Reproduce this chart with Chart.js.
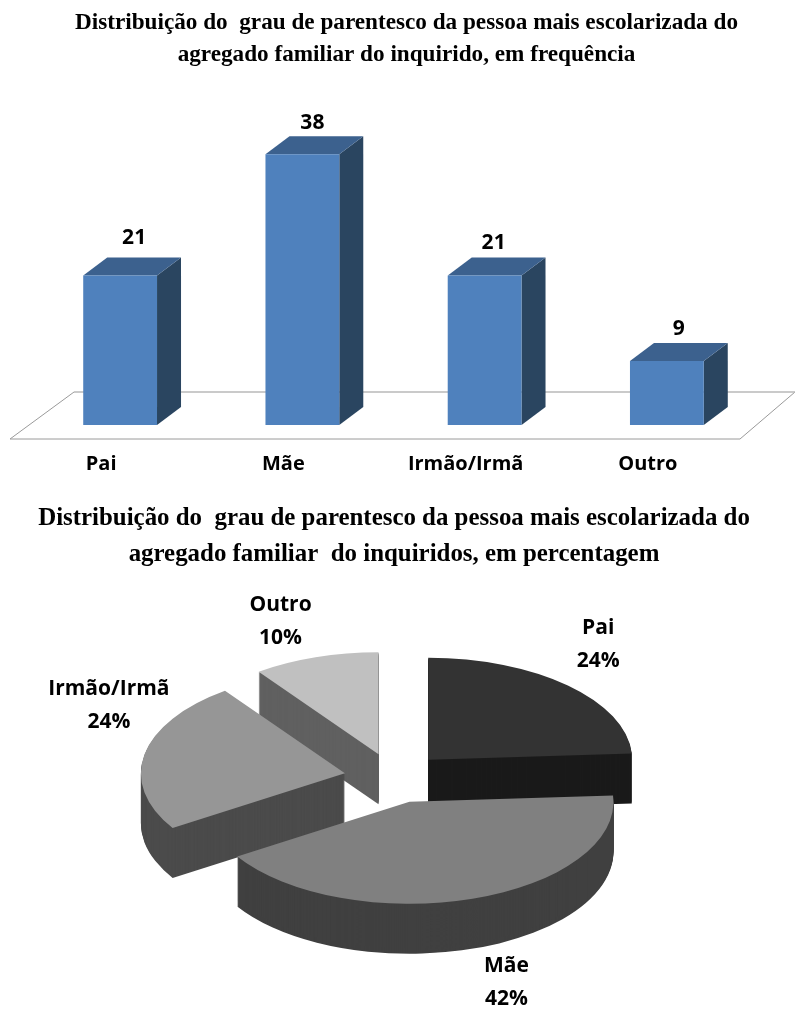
<!DOCTYPE html>
<html>
<head>
<meta charset="utf-8">
<title>Grau de parentesco</title>
<script src="https://cdn.jsdelivr.net/npm/chart.js@4"></script>
<style>
  html, body { margin: 0; padding: 0; background: #fff; }
  canvas { position: absolute; left: 0; }
  #barChart { top: 0; }
  #pieChart { top: 490px; }
</style>
</head>
<body>
<canvas id="barChart" width="795" height="490"></canvas>
<canvas id="pieChart" width="795" height="520"></canvas>
<script>
const categories = ["Pai", "Mãe", "Irmão/Irmã", "Outro"];
const frequency = [21, 38, 21, 9];
const percentage = [24, 42, 24, 10];

const barTitle = ["Distribuição do  grau de parentesco da pessoa mais escolarizada do", "agregado familiar do inquirido, em frequência"];
const pieTitle = ["Distribuição do  grau de parentesco da pessoa mais escolarizada do", "agregado familiar  do inquiridos, em percentagem"];

const pieColors = ["#333333", "#808080", "#969696", "#c0c0c0"];
const wallColors = ["#1a1a1a", "#404040", "#4b4b4b", "#606060"];

// 3d look of the bars
const barDepthX = 24;
const barDepthY = 18;
const barLabelShift = [[14, -37], [10, -31], [9, -32], [12, -32]];

// 3d look of the pie
const tilt = 0.5;
const explode = 50;
const pieDepth = 50;
const pieLabelShift = [[170, -132], [97, 164], [-236, -84], [-98, -149]];
const wallOrder = [3, 0, 2, 1]; // back to front

function sliceOrigin(arc) {
  const mid = (arc.startAngle + arc.endAngle) / 2;
  return { x: arc.x + Math.cos(mid) * explode, y: arc.y + Math.sin(mid) * explode * tilt };
}

// the arcs are drawn flattened and pulled out of the centre
const baseArcDraw = Chart.ArcElement.prototype.draw;
Chart.ArcElement.prototype.draw = function (ctx) {
  const o = sliceOrigin(this);
  ctx.save();
  ctx.translate(o.x, o.y);
  ctx.scale(1, tilt);
  ctx.translate(-this.x, -this.y);
  baseArcDraw.call(this, ctx);
  ctx.restore();
};

const bar3d = {
  id: "bar3d",
  // title sits right of the plot centre in the original
  afterLayout(chart) {
    chart.titleBlock.left += 26;
  },
  beforeDatasetsDraw(chart) {
    const ctx = chart.ctx;
    const x = chart.scales.x;
    const y0 = chart.scales.y.getPixelForValue(0);
    // floor
    const frontY = y0 + 14, backY = y0 - 33;
    ctx.save();
    ctx.lineWidth = 1;
    ctx.strokeStyle = "#9a9a9a";
    ctx.beginPath();
    ctx.moveTo(x.left + 45, backY);
    ctx.lineTo(x.left - 19, frontY);
    ctx.lineTo(x.right - 18, frontY);
    ctx.lineTo(chart.width, backY);
    ctx.stroke();
    ctx.strokeStyle = "#b9b9b9";
    ctx.lineWidth = 1.5;
    ctx.beginPath();
    ctx.moveTo(x.left + 45, backY);
    ctx.lineTo(chart.width, backY);
    ctx.stroke();
    // sides and tops
    chart.getDatasetMeta(0).data.forEach(bar => {
      const l = bar.x - bar.width / 2, r = bar.x + bar.width / 2;
      ctx.fillStyle = "#2a4560";
      ctx.beginPath();
      ctx.moveTo(r, bar.y);
      ctx.lineTo(r + barDepthX, bar.y - barDepthY);
      ctx.lineTo(r + barDepthX, bar.base - barDepthY);
      ctx.lineTo(r, bar.base);
      ctx.closePath();
      ctx.fill();
      ctx.fillStyle = "#3c618e";
      ctx.beginPath();
      ctx.moveTo(l, bar.y);
      ctx.lineTo(l + barDepthX, bar.y - barDepthY);
      ctx.lineTo(r + barDepthX, bar.y - barDepthY);
      ctx.lineTo(r, bar.y);
      ctx.closePath();
      ctx.fill();
    });
    ctx.restore();
  },
  afterDraw(chart) {
    const ctx = chart.ctx;
    ctx.save();
    ctx.font = "bold 21px 'Open Sans'";
    ctx.fillStyle = "#000";
    ctx.textAlign = "center";
    ctx.textBaseline = "middle";
    chart.getDatasetMeta(0).data.forEach((bar, i) => {
      ctx.fillText(frequency[i], bar.x + barLabelShift[i][0], bar.y + barLabelShift[i][1]);
    });
    ctx.restore();
  }
};

const pie3d = {
  id: "pie3d",
  beforeDatasetsDraw(chart) {
    const ctx = chart.ctx;
    const arcs = chart.getDatasetMeta(0).data;
    wallOrder.forEach(i => {
      const arc = arcs[i];
      const o = sliceOrigin(arc);
      ctx.fillStyle = wallColors[i];
      for (let d = pieDepth; d > 0; d--) {
        ctx.save();
        ctx.translate(o.x, o.y + d);
        ctx.scale(1, tilt);
        ctx.beginPath();
        ctx.moveTo(0, 0);
        ctx.arc(0, 0, arc.outerRadius, arc.startAngle, arc.endAngle);
        ctx.closePath();
        ctx.fill();
        ctx.restore();
      }
    });
  },
  afterDraw(chart) {
    const ctx = chart.ctx;
    ctx.save();
    ctx.font = "bold 21px 'Open Sans'";
    ctx.fillStyle = "#000";
    ctx.textAlign = "center";
    ctx.textBaseline = "middle";
    chart.getDatasetMeta(0).data.forEach((arc, i) => {
      const o = sliceOrigin(arc);
      const lx = o.x + pieLabelShift[i][0], ly = o.y + pieLabelShift[i][1];
      ctx.fillText(categories[i], lx, ly);
      ctx.fillText(percentage[i] + "%", lx, ly + 33);
    });
    ctx.restore();
  }
};

new Chart(document.getElementById("barChart"), {
  type: "bar",
  data: {
    labels: categories,
    datasets: [{
      data: frequency,
      backgroundColor: "#4f81bd",
      barPercentage: 1,
      categoryPercentage: 0.405
    }]
  },
  options: {
    responsive: false,
    animation: false,
    layout: { padding: { left: 29, right: 37 } },
    plugins: {
      legend: { display: false },
      tooltip: { enabled: false },
      title: {
        display: true,
        text: barTitle,
        color: "#000",
        font: { family: "Liberation Serif", weight: "bold", size: 23.2, lineHeight: 1.38 },
        padding: { top: 7, bottom: 69 }
      }
    },
    scales: {
      x: {
        grid: { display: false },
        border: { display: false },
        ticks: { color: "#000", font: { family: "Open Sans", weight: "bold", size: 20 }, padding: 19, labelOffset: -19, maxRotation: 0 },
        afterFit(scale) { scale.height = 65; }
      },
      y: { display: false, min: 0, max: 40 }
    }
  },
  plugins: [bar3d]
});

new Chart(document.getElementById("pieChart"), {
  type: "pie",
  data: {
    labels: categories,
    datasets: [{
      data: percentage,
      backgroundColor: pieColors,
      borderWidth: 0
    }]
  },
  options: {
    responsive: false,
    animation: false,
    radius: 204,
    layout: { padding: { right: 7, bottom: 35 } },
    plugins: {
      legend: { display: false },
      tooltip: { enabled: false },
      title: {
        display: true,
        text: pieTitle,
        color: "#000",
        font: { family: "Liberation Serif", weight: "bold", size: 24.9, lineHeight: 1.446 },
        padding: { top: 11, bottom: 8 }
      }
    }
  },
  plugins: [pie3d]
});
</script>
</body>
</html>
